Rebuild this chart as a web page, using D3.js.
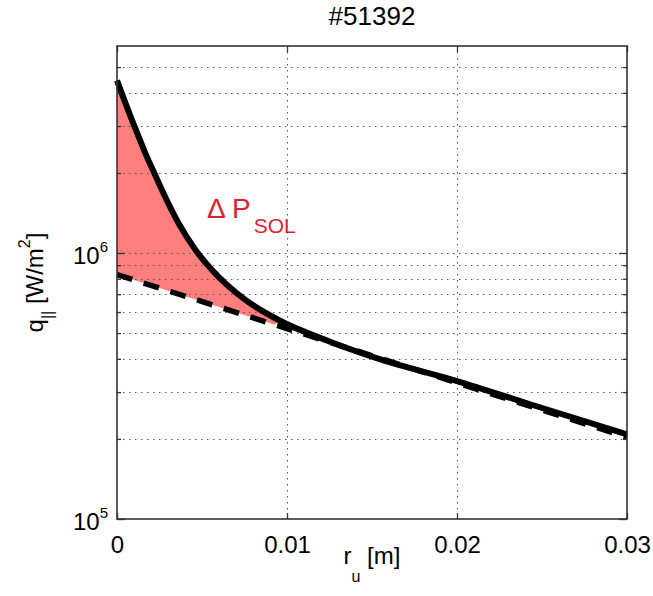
<!DOCTYPE html>
<html><head><meta charset="utf-8">
<script src="https://cdn.jsdelivr.net/npm/d3@7"></script>
<style>body{margin:0;background:#fff} text{font-family:"Liberation Sans",Arial,sans-serif}</style>
</head><body><svg id="c" width="653" height="596"></svg>
<script>
// ---- data ----
const title = "#51392";
const rSolid = [0, 0.00088, 0.00127, 0.00167, 0.00216, 0.00265, 0.00363, 0.0046, 0.00559, 0.00755, 0.0095, 0.0125, 0.0155, 0.02, 0.0243, 0.03];
const qSolid = [4.45e6, 3.16e6, 2.74e6, 2.37e6, 2.02e6, 1.72e6, 1.29e6, 1.03e6, 8.63e5, 6.66e5, 5.6e5, 4.65e5, 3.98e5, 3.3e5, 2.7e5, 2.08e5];
const rDashed = [0, 0.0093, 0.02, 0.03];
const qDashed = [8.3e5, 5.37e5, 3.25e5, 2.03e5];
const shadeEnd = 0.0095;
const xTickValues = [0, 0.01, 0.02, 0.03];
const xTickLabels = ["0", "0.01", "0.02", "0.03"];
const yMajor = [1e5, 1e6];
const yMajorExp = ["5", "6"];
const yMinor = [2e5, 3e5, 4e5, 5e5, 6e5, 7e5, 8e5, 9e5, 2e6, 3e6, 4e6, 5e6];
const xDomain = [0, 0.03];
const yDomain = [1e5, 6e6];

// ---- layout ----
const L = 117, R = 627, T = 46, B = 519;
const svg = d3.select("#c");
svg.append("rect").attr("width", 653).attr("height", 596).attr("fill", "#fff");
const x = d3.scaleLinear().domain(xDomain).range([L, R]);
const y = d3.scaleLog().domain(yDomain).range([B, T]);

const solid = rSolid.map((r, i) => [r, qSolid[i]]);
const dashed = rDashed.map((r, i) => [r, qDashed[i]]);
const lineC = d3.line().x(d => x(d[0])).y(d => y(d[1])).curve(d3.curveMonotoneX);
const lineL = d3.line().x(d => x(d[0])).y(d => y(d[1]));

// fill between curves
const solidPart = solid.filter(d => d[0] <= shadeEnd);
const dashedPart = dashed.filter(d => d[0] <= shadeEnd).reverse();
const fillPath = lineC(solidPart) + lineL(dashedPart).replace(/^M/, "L") + "Z";
svg.append("path").attr("d", fillPath).attr("fill", "#ff7f7f").attr("stroke", "none");

// grid
const grid = svg.append("g").attr("stroke", "#555").attr("stroke-width", 1).attr("stroke-dasharray", "1.5,4.5");
grid.selectAll("line.h").data(yMajor.concat(yMinor).filter(v => v > yDomain[0] && v < yDomain[1]))
  .join("line").attr("x1", L).attr("x2", R).attr("y1", d => Math.round(y(d)) + 0.5).attr("y2", d => Math.round(y(d)) + 0.5);
grid.selectAll("line.v").data(xTickValues.filter(v => v > xDomain[0] && v < xDomain[1]))
  .join("line").attr("y1", T).attr("y2", B).attr("x1", d => Math.round(x(d)) + 0.5).attr("x2", d => Math.round(x(d)) + 0.5);

// curves
svg.append("path").datum(dashed).attr("d", lineL).attr("fill", "none")
  .attr("stroke", "#000").attr("stroke-width", 5.5).attr("stroke-dasharray", "16,12");
svg.append("path").datum(solid).attr("d", lineC).attr("fill", "none")
  .attr("stroke", "#000").attr("stroke-width", 6).attr("stroke-linejoin", "round");

// axes
const axColor = "#333";
function styleAxis(g, fs) {
  g.select(".domain").remove();
  g.selectAll(".tick line").attr("stroke", axColor).attr("stroke-width", 1.3);
  g.attr("font-family", '"Liberation Sans", Arial, sans-serif').attr("font-size", fs);
  g.selectAll(".tick text").attr("fill", "#000");
}
svg.append("g").attr("transform", `translate(0,${B})`)
  .call(d3.axisBottom(x).tickValues(xTickValues).tickFormat((d, i) => xTickLabels[i]).tickSizeInner(-6).tickSizeOuter(0).tickPadding(17))
  .call(g => styleAxis(g, 24));
svg.append("g").attr("transform", `translate(0,${T})`)
  .call(d3.axisTop(x).tickValues(xTickValues).tickFormat("").tickSizeInner(-6).tickSizeOuter(0))
  .call(g => styleAxis(g, 24));
const yl = svg.append("g").attr("transform", `translate(${L},0)`)
  .call(d3.axisLeft(y).tickValues(yMajor).tickFormat("").tickSizeInner(-8).tickSizeOuter(0).tickPadding(9))
  .call(g => styleAxis(g, 24));
yl.selectAll(".tick text").attr("dy", "0.45em").each(function (d, i) {
  const t = d3.select(this);
  t.append("tspan").text("10");
  t.append("tspan").attr("font-size", 15).attr("dy", -12).text(yMajorExp[i]);
});
svg.append("g").attr("transform", `translate(${L},0)`)
  .call(d3.axisLeft(y).tickValues(yMinor).tickFormat("").tickSizeInner(-4).tickSizeOuter(0))
  .call(g => styleAxis(g, 24));
svg.append("g").attr("transform", `translate(${R},0)`)
  .call(d3.axisRight(y).tickValues(yMajor).tickFormat("").tickSizeInner(-8).tickSizeOuter(0))
  .call(g => styleAxis(g, 24));
svg.append("g").attr("transform", `translate(${R},0)`)
  .call(d3.axisRight(y).tickValues(yMinor).tickFormat("").tickSizeInner(-4).tickSizeOuter(0))
  .call(g => styleAxis(g, 24));

// box
svg.append("rect").attr("x", L).attr("y", T).attr("width", R - L).attr("height", B - T)
  .attr("fill", "none").attr("stroke", axColor).attr("stroke-width", 1.6);

// title
svg.append("text").attr("x", (L + R) / 2).attr("y", 25).attr("text-anchor", "middle")
  .attr("font-size", 26).attr("fill", "#000").text(title);

// x label
const xl = svg.append("text").attr("x", (L + R) / 2).attr("y", 564).attr("text-anchor", "middle")
  .attr("font-size", 24).attr("fill", "#000");
xl.append("tspan").text("r");
xl.append("tspan").attr("font-size", 16).attr("dy", 18).text("u");
xl.append("tspan").attr("dy", -18).text(" [m]");

// y label
const ylab = svg.append("text").attr("transform", `translate(43,${(T + B) / 2}) rotate(-90)`)
  .attr("text-anchor", "middle").attr("font-size", 24).attr("fill", "#000");
ylab.append("tspan").text("q");
ylab.append("tspan").attr("font-size", 16).attr("dy", 10).text("||");
ylab.append("tspan").attr("dy", -10).text(" [W/m");
ylab.append("tspan").attr("font-size", 16).attr("dy", -13).text("2");
ylab.append("tspan").attr("dy", 13).text("]");

// annotation
const ann = svg.append("text").attr("x", 207).attr("y", 218).attr("fill", "#dd1f2f").attr("font-size", 28);
ann.append("tspan").text("\u0394 P");
ann.append("tspan").attr("font-size", 21).attr("dx", 3).attr("dy", 15).text("SOL");
</script></body></html>
